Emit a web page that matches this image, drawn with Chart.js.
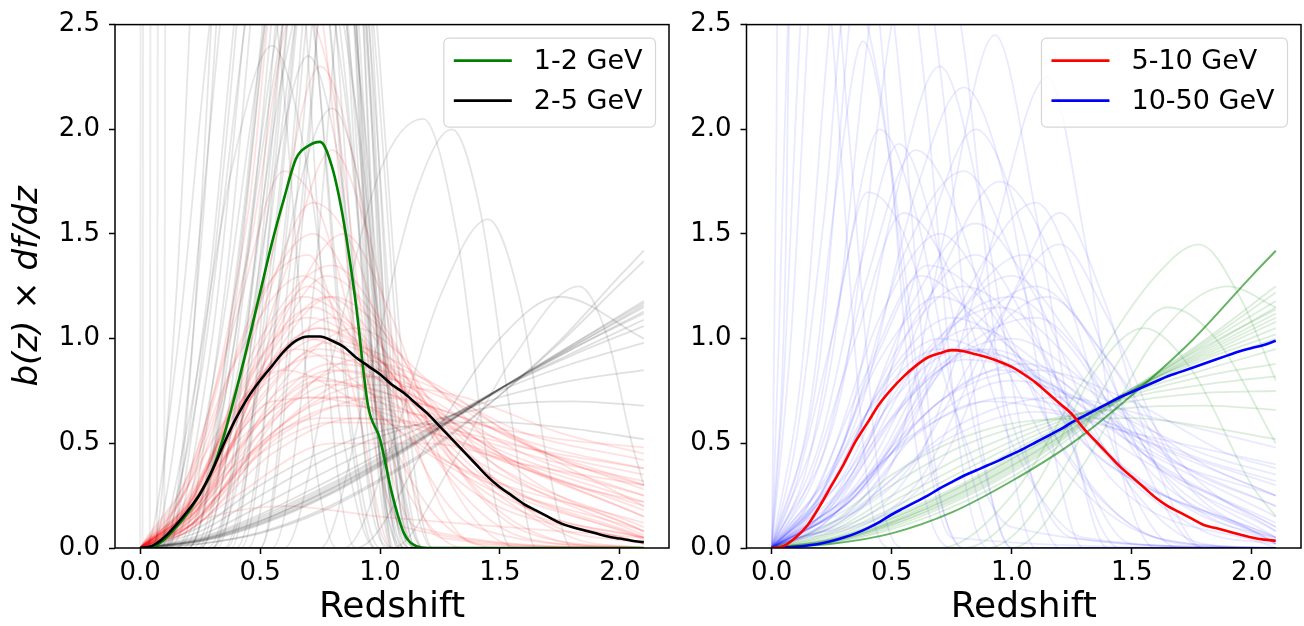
<!DOCTYPE html>
<html>
<head>
<meta charset="utf-8">
<script src="https://cdn.jsdelivr.net/npm/chart.js@4.4.1/dist/chart.umd.min.js"></script>
<style>
  body { margin: 0; background: #fff; width: 1304px; height: 626px; overflow: hidden; position: relative; }
  canvas { position: absolute; top: 0; }
</style>
</head>
<body>
<canvas id="left" width="676" height="626" style="left:0;width:676px;height:626px"></canvas>
<canvas id="right" width="628" height="626" style="left:676px;width:628px;height:626px"></canvas>
<script>
// redshift grid for the mean curves
const zGrid = [0, 0.05, 0.1, 0.15, 0.2, 0.25, 0.3, 0.35, 0.4, 0.45, 0.5, 0.55, 0.6, 0.65, 0.7, 0.75, 0.8, 0.85, 0.9, 0.95,
  1.0, 1.05, 1.1, 1.15, 1.2, 1.25, 1.3, 1.35, 1.4, 1.45, 1.5, 1.55, 1.6, 1.65, 1.7, 1.75, 1.8, 1.85, 1.9, 1.95, 2.0, 2.05, 2.1];

// mean curves
const green12 = [0, 0.005, 0.04, 0.1, 0.17, 0.26, 0.37, 0.54, 0.75, 0.98, 1.22, 1.46, 1.67, 1.86, 1.92, 1.94, 1.82, 1.55, 1.16, 0.68,
  0.52, 0.26, 0.07, 0.01, 0, 0, 0, 0, 0, 0, 0, 0, 0, 0, 0, 0, 0, 0, 0, 0, 0, 0, 0];
const black25 = [0, 0.01, 0.05, 0.11, 0.18, 0.26, 0.37, 0.5, 0.62, 0.72, 0.8, 0.87, 0.94, 0.99, 1.01, 1.01, 0.99, 0.96, 0.91, 0.87,
  0.83, 0.78, 0.74, 0.69, 0.64, 0.58, 0.52, 0.46, 0.40, 0.34, 0.29, 0.25, 0.21, 0.18, 0.15, 0.12, 0.10, 0.085, 0.07, 0.055, 0.045, 0.035, 0.028];
const red510 = [0, 0.01, 0.05, 0.11, 0.2, 0.3, 0.4, 0.51, 0.6, 0.69, 0.76, 0.82, 0.87, 0.91, 0.93, 0.945, 0.94, 0.925, 0.91, 0.89,
  0.865, 0.83, 0.79, 0.74, 0.69, 0.64, 0.57, 0.51, 0.45, 0.39, 0.34, 0.29, 0.24, 0.2, 0.17, 0.14, 0.11, 0.095, 0.08, 0.065, 0.05, 0.04, 0.035];
const blue1050 = [0, 0.002, 0.006, 0.012, 0.02, 0.033, 0.05, 0.07, 0.095, 0.125, 0.16, 0.19, 0.22, 0.25, 0.285, 0.315, 0.345, 0.37, 0.395, 0.42,
  0.447, 0.475, 0.505, 0.535, 0.565, 0.6, 0.63, 0.66, 0.69, 0.72, 0.745, 0.77, 0.795, 0.82, 0.84, 0.86, 0.88, 0.9, 0.92, 0.94, 0.955, 0.97, 0.99];

const xTicks = [0, 0.5, 1.0, 1.5, 2.0];
const yTicks = [0, 0.5, 1.0, 1.5, 2.0, 2.5];
const leftLabels = ['1-2 GeV', '2-5 GeV'];
const rightLabels = ['5-10 GeV', '10-50 GeV'];

// faint sample curves, [redshift, value] pairs
const grayNearZero = [
  [[0, 0], [0.004, 6]], [[0.01, 0], [0.015, 6]], [[0.04, 0], [0.046, 6]], [[0.07, 0], [0.078, 6]], [[0.1, 0], [0.11, 6]]
];
const grayPeaks = [
  [[0, 0], [0.10, 0], [0.30, 1.0], [0.50, 3.2], [0.62, 4.0], [0.80, 2.4], [0.95, 0.3], [1.05, 0], [2.1, 0]],
  [[0, 0], [0.20, 0], [0.40, 1.2], [0.60, 3.4], [0.72, 4.2], [0.86, 2.6], [1.00, 0.4], [1.10, 0], [2.1, 0]],
  [[0, 0], [0.25, 0], [0.45, 1.1], [0.65, 3.0], [0.78, 3.8], [0.90, 2.5], [1.02, 0.5], [1.12, 0], [2.1, 0]],
  [[0, 0], [0.05, 0], [0.25, 0.8], [0.45, 2.6], [0.60, 3.6], [0.78, 2.6], [0.92, 0.6], [1.05, 0], [2.1, 0]],
  [[0, 0], [0.30, 0], [0.50, 1.3], [0.68, 3.2], [0.80, 3.9], [0.90, 2.7], [1.00, 0.8], [1.08, 0], [2.1, 0]],
  [[0, 0], [0.15, 0], [0.35, 0.7], [0.55, 2.2], [0.70, 3.0], [0.85, 2.2], [1.00, 0.5], [1.15, 0], [2.1, 0]],
  [[0, 0], [0.35, 0], [0.55, 1.4], [0.72, 3.3], [0.84, 4.0], [0.93, 2.8], [1.03, 0.6], [1.10, 0], [2.1, 0]],
  [[0, 0], [0.08, 0], [0.28, 1.2], [0.42, 2.8], [0.55, 3.6], [0.72, 2.5], [0.88, 0.6], [1.00, 0], [2.1, 0]],
  [[0, 0], [0.20, 0], [0.42, 1.5], [0.60, 3.5], [0.75, 4.5], [0.88, 2.8], [0.98, 0.7], [1.08, 0], [2.1, 0]],
  [[0, 0], [0.40, 0], [0.58, 1.2], [0.74, 3.0], [0.85, 3.7], [0.95, 2.3], [1.05, 0.5], [1.15, 0], [2.1, 0]],
  [[0, 0], [0.12, 0], [0.32, 0.9], [0.52, 2.5], [0.66, 3.4], [0.82, 2.6], [0.98, 0.8], [1.12, 0], [2.1, 0]],
  [[0, 0], [0.28, 0], [0.48, 1.0], [0.66, 2.6], [0.80, 3.2], [0.92, 2.2], [1.05, 0.6], [1.18, 0], [2.1, 0]],
  [[0, 0], [0.02, 0], [0.15, 0.9], [0.30, 2.6], [0.42, 3.4], [0.58, 2.4], [0.72, 0.5], [0.82, 0], [2.1, 0]],
  [[0, 0], [0.18, 0], [0.38, 1.1], [0.58, 3.0], [0.74, 3.9], [0.87, 2.9], [0.96, 1.0], [1.06, 0], [2.1, 0]],
  [[0, 0], [0.45, 0], [0.62, 1.3], [0.76, 3.0], [0.86, 3.6], [0.96, 2.4], [1.08, 0.6], [1.18, 0], [2.1, 0]],
  [[0, 0], [0.22, 0], [0.40, 0.8], [0.60, 2.3], [0.76, 2.9], [0.90, 2.1], [1.04, 0.7], [1.18, 0], [2.1, 0]],
  [[0, 0], [0.32, 0], [0.52, 1.6], [0.70, 3.8], [0.82, 4.6], [0.91, 3.0], [1.00, 0.9], [1.07, 0], [2.1, 0]],
  [[0, 0], [0.06, 0], [0.20, 0.6], [0.38, 1.8], [0.55, 2.4], [0.70, 1.8], [0.85, 0.5], [0.98, 0], [2.1, 0]],
  [[0, 0], [0.25, 0], [0.42, 0.8], [0.58, 1.9], [0.70, 2.35], [0.82, 1.9], [0.95, 0.8], [1.10, 0], [2.1, 0]],
  [[0, 0], [0.60, 0], [0.80, 0.9], [1.00, 1.8], [1.18, 2.05], [1.32, 1.5], [1.45, 0.4], [1.55, 0], [2.1, 0]],
  [[0, 0], [0.75, 0], [0.95, 0.8], [1.15, 1.7], [1.30, 2.0], [1.42, 1.6], [1.55, 0.6], [1.65, 0], [2.1, 0]],
  [[0, 0], [0.85, 0], [1.05, 0.5], [1.25, 1.2], [1.45, 1.57], [1.58, 1.2], [1.70, 0.4], [1.80, 0], [2.1, 0]],
  [[0, 0], [1.05, 0], [1.30, 0.4], [1.55, 0.9], [1.83, 1.25], [1.95, 1.0], [2.05, 0.5], [2.1, 0.3]],
  [[0, 0], [0.10, 0], [0.25, 1.4], [0.38, 3.5], [0.50, 4.5], [0.66, 3.0], [0.80, 0.6], [0.90, 0], [2.1, 0]],
  [[0, 0], [0.38, 0], [0.56, 1.8], [0.70, 3.6], [0.80, 4.2], [0.90, 3.2], [0.98, 1.2], [1.05, 0], [2.1, 0]],
  [[0, 0], [0.50, 0], [0.66, 1.5], [0.80, 3.2], [0.88, 3.8], [0.98, 2.6], [1.10, 0.8], [1.22, 0], [2.1, 0]],
  [[0, 0], [0.15, 0], [0.35, 1.2], [0.55, 3.6], [0.68, 4.6], [0.82, 3.2], [0.95, 0.9], [1.05, 0], [2.1, 0]],
  [[0, 0], [0.30, 0], [0.48, 1.4], [0.65, 3.6], [0.78, 4.4], [0.88, 3.0], [0.97, 0.9], [1.05, 0], [2.1, 0]],
  [[0, 0], [0.42, 0], [0.60, 1.5], [0.75, 3.4], [0.85, 4.0], [0.94, 2.8], [1.03, 0.9], [1.12, 0], [2.1, 0]],
  [[0, 0], [0.10, 0], [0.30, 1.3], [0.48, 3.4], [0.62, 4.4], [0.78, 3.0], [0.92, 0.9], [1.02, 0], [2.1, 0]],
  [[0, 0], [0.24, 0], [0.44, 1.3], [0.62, 3.3], [0.76, 4.2], [0.88, 2.9], [0.99, 0.8], [1.10, 0], [2.1, 0]],
  [[0, 0], [0.36, 0], [0.54, 1.2], [0.70, 3.0], [0.82, 3.8], [0.93, 2.7], [1.04, 0.8], [1.14, 0], [2.1, 0]],
  [[0, 0], [0.04, 0], [0.20, 1.0], [0.38, 3.0], [0.52, 4.0], [0.70, 2.8], [0.86, 0.7], [0.98, 0], [2.1, 0]],
  [[0, 0], [0.50, 0], [0.68, 1.6], [0.80, 3.4], [0.87, 4.0], [0.95, 2.8], [1.05, 0.8], [1.15, 0], [2.1, 0]],
  [[0, 0], [0.20, 0], [0.38, 0.9], [0.56, 2.4], [0.72, 3.2], [0.86, 2.5], [1.00, 0.9], [1.14, 0], [2.1, 0]],
  [[0, 0], [0.55, 0], [0.72, 1.2], [0.84, 2.8], [0.90, 3.4], [0.98, 2.4], [1.10, 0.6], [1.22, 0], [2.1, 0]],
  [[0, 0], [0.30, 0], [0.50, 0.8], [0.68, 1.8], [0.80, 2.1], [0.92, 1.7], [1.05, 0.6], [1.15, 0], [2.1, 0]],
  [[0, 0], [0.05, 0], [0.15, 1.2], [0.25, 3.5], [0.35, 5.0]],
  [[0, 0], [0.12, 0], [0.22, 1.0], [0.32, 3.0], [0.42, 5.0]]
];
const grayRising = [
  [[0, 0], [0.25, 0.02], [0.5, 0.07], [0.75, 0.17], [1.0, 0.32], [1.25, 0.5], [1.5, 0.73], [1.75, 0.99], [2.0, 1.3], [2.1, 1.42]],
  [[0, 0], [0.25, 0.02], [0.5, 0.075], [0.75, 0.18], [1.0, 0.33], [1.25, 0.51], [1.5, 0.73], [1.75, 0.98], [2.0, 1.26], [2.1, 1.37]],
  [[0, 0], [0.25, 0.03], [0.5, 0.11], [0.8, 0.26], [1.1, 0.46], [1.5, 0.76], [1.8, 0.97], [2.1, 1.18]],
  [[0, 0], [0.25, 0.035], [0.5, 0.12], [0.8, 0.27], [1.1, 0.47], [1.5, 0.76], [1.8, 0.96], [2.1, 1.15]],
  [[0, 0], [0.25, 0.04], [0.5, 0.13], [0.8, 0.29], [1.1, 0.48], [1.5, 0.76], [1.8, 0.95], [2.1, 1.12]],
  [[0, 0], [0.25, 0.04], [0.5, 0.14], [0.8, 0.3], [1.1, 0.49], [1.5, 0.76], [1.8, 0.93], [2.1, 1.09]],
  [[0, 0], [0.25, 0.045], [0.5, 0.15], [0.8, 0.31], [1.1, 0.5], [1.5, 0.76], [1.8, 0.92], [2.1, 1.06]],
  [[0, 0], [0.25, 0.05], [0.5, 0.16], [0.8, 0.33], [1.1, 0.51], [1.5, 0.75], [1.8, 0.88], [2.1, 0.98]],
  [[0, 0], [0.25, 0.06], [0.5, 0.2], [0.8, 0.38], [1.1, 0.54], [1.5, 0.72], [1.8, 0.8], [2.1, 0.85]],
  [[0, 0], [0.25, 0.08], [0.5, 0.25], [0.8, 0.44], [1.1, 0.57], [1.5, 0.68], [1.8, 0.7], [2.1, 0.68]],
  [[0, 0], [0.25, 0.1], [0.5, 0.3], [0.8, 0.48], [1.1, 0.58], [1.5, 0.6], [1.8, 0.57], [2.1, 0.52]],
  [[0, 0], [0.25, 0.035], [0.5, 0.125], [0.8, 0.28], [1.1, 0.47], [1.5, 0.76], [1.8, 0.96], [2.1, 1.16]],
  [[0, 0], [0.25, 0.032], [0.5, 0.115], [0.8, 0.265], [1.1, 0.465], [1.5, 0.76], [1.8, 0.97], [2.1, 1.17]],
  [[0, 0], [0.25, 0.038], [0.5, 0.13], [0.8, 0.285], [1.1, 0.475], [1.5, 0.76], [1.8, 0.95], [2.1, 1.13]],
  [[0, 0], [0.9, 0], [1.2, 0.5], [1.5, 1.0], [1.75, 1.2], [2.1, 1.0]]
];
const redSamples = [
  [[0, 0], [0.2, 0.15], [0.45, 0.7], [0.7, 1.0], [1.0, 0.8], [1.4, 0.35], [2.1, 0.05]],
  [[0, 0], [0.2, 0.2], [0.45, 0.8], [0.72, 1.15], [1.0, 0.85], [1.4, 0.3], [2.1, 0.02]],
  [[0, 0], [0.2, 0.12], [0.5, 0.6], [0.8, 0.85], [1.1, 0.75], [1.5, 0.45], [2.1, 0.15]],
  [[0, 0], [0.15, 0.12], [0.4, 0.65], [0.65, 0.95], [0.95, 0.75], [1.3, 0.4], [2.1, 0.08]],
  [[0, 0], [0.2, 0.1], [0.5, 0.5], [0.85, 0.72], [1.2, 0.62], [1.6, 0.42], [2.1, 0.25]],
  [[0, 0], [0.2, 0.08], [0.55, 0.45], [0.9, 0.62], [1.3, 0.55], [1.7, 0.42], [2.1, 0.32]],
  [[0, 0], [0.15, 0.2], [0.4, 0.9], [0.68, 1.3], [0.95, 0.95], [1.3, 0.35], [2.1, 0.02]],
  [[0, 0], [0.2, 0.25], [0.45, 1.05], [0.72, 1.5], [0.95, 1.1], [1.25, 0.4], [1.6, 0.05], [2.1, 0]],
  [[0, 0], [0.2, 0.18], [0.5, 0.85], [0.78, 1.2], [1.05, 0.9], [1.4, 0.4], [2.1, 0.05]],
  [[0, 0], [0.25, 0.15], [0.55, 0.62], [0.85, 0.85], [1.15, 0.72], [1.5, 0.45], [2.1, 0.18]],
  [[0, 0], [0.1, 0.1], [0.35, 0.6], [0.6, 0.85], [0.9, 0.7], [1.3, 0.4], [2.1, 0.12]],
  [[0, 0], [0.2, 0.12], [0.5, 0.55], [0.8, 0.78], [1.2, 0.68], [1.7, 0.48], [2.1, 0.38]],
  [[0, 0], [0.2, 0.22], [0.5, 1.0], [0.8, 1.35], [1.05, 1.0], [1.35, 0.35], [1.8, 0.02], [2.1, 0]],
  [[0, 0], [0.3, 0.3], [0.6, 1.1], [0.85, 1.5], [1.05, 1.1], [1.3, 0.3], [1.6, 0], [2.1, 0]],
  [[0, 0], [0.15, 0.15], [0.45, 0.75], [0.75, 1.05], [1.05, 0.85], [1.45, 0.42], [2.1, 0.1]],
  [[0, 0], [0.2, 0.1], [0.6, 0.55], [1.0, 0.72], [1.4, 0.6], [1.8, 0.4], [2.1, 0.3]],
  [[0, 0], [0.25, 0.2], [0.55, 0.85], [0.8, 1.1], [1.0, 0.9], [1.3, 0.45], [1.8, 0.05], [2.1, 0]],
  [[0, 0], [0.15, 0.1], [0.4, 0.5], [0.7, 0.72], [1.0, 0.65], [1.5, 0.42], [2.1, 0.2]],
  [[0, 0], [0.2, 0.3], [0.4, 1.1], [0.6, 1.8], [0.75, 1.6], [0.95, 0.8], [1.2, 0.2], [1.5, 0], [2.1, 0]],
  [[0, 0], [0.2, 0.35], [0.45, 1.4], [0.65, 2.6], [0.8, 2.2], [0.95, 0.9], [1.15, 0.1], [2.1, 0]],
  [[0, 0], [0.25, 0.5], [0.45, 1.6], [0.6, 3.0], [0.75, 2.6], [0.9, 1.0], [1.1, 0.1], [2.1, 0]],
  [[0, 0], [0.3, 0.4], [0.55, 1.4], [0.75, 2.3], [0.9, 1.8], [1.05, 0.7], [1.25, 0.05], [2.1, 0]],
  [[0, 0], [0.2, 0.15], [0.5, 0.7], [0.78, 0.98], [1.1, 0.82], [1.5, 0.38], [2.1, 0.06]],
  [[0, 0], [0.2, 0.17], [0.48, 0.78], [0.74, 1.05], [1.05, 0.82], [1.45, 0.35], [2.1, 0.04]],
  [[0, 0], [0.25, 0.12], [0.6, 0.6], [0.95, 0.82], [1.3, 0.7], [1.7, 0.45], [2.1, 0.28]],
  [[0, 0], [0.2, 0.14], [0.5, 0.6], [0.75, 0.8], [1.0, 0.75], [1.3, 0.6], [1.7, 0.45], [2.1, 0.35]],
  [[0, 0], [0.15, 0.05], [0.4, 0.25], [0.8, 0.5], [1.2, 0.5], [1.6, 0.4], [2.1, 0.3]],
  [[0, 0], [0.2, 0.12], [0.5, 0.45], [0.8, 0.6], [1.1, 0.58], [1.6, 0.4], [2.1, 0.22]],
  [[0, 0], [0.3, 0.25], [0.6, 0.8], [0.9, 1.05], [1.2, 0.8], [1.6, 0.35], [2.1, 0.08]],
  [[0, 0], [0.1, 0.06], [0.3, 0.35], [0.55, 0.7], [0.85, 0.72], [1.2, 0.45], [1.7, 0.15], [2.1, 0.05]],
  [[0, 0], [0.2, 0.3], [0.5, 1.2], [0.7, 1.4], [0.9, 0.7], [1.05, 0], [2.1, 0]],
  [[0, 0], [0.1, 0.05], [0.3, 0.15], [0.6, 0.2], [1.0, 0.15], [2.1, 0.05]],
  [[0, 0], [0.25, 0.25], [0.5, 0.9], [0.7, 1.25], [0.88, 1.0], [1.1, 0.3], [1.35, 0], [2.1, 0]],
  [[0, 0], [0.2, 0.1], [0.55, 0.55], [0.95, 0.78], [1.35, 0.72], [1.75, 0.55], [2.1, 0.45]],
  [[0, 0], [0.2, 0.16], [0.5, 0.72], [0.75, 0.95], [1.0, 0.85], [1.4, 0.5], [2.1, 0.15]],
  [[0, 0], [0.2, 0.2], [0.45, 0.82], [0.7, 1.1], [0.95, 0.95], [1.3, 0.5], [2.1, 0.08]],
  [[0, 0], [0.15, 0.14], [0.45, 0.7], [0.75, 0.92], [1.1, 0.78], [1.6, 0.45], [2.1, 0.25]],
  [[0, 0], [0.2, 0.13], [0.5, 0.62], [0.8, 0.88], [1.15, 0.8], [1.6, 0.55], [2.1, 0.42]],
  [[0, 0], [0.25, 0.22], [0.55, 0.9], [0.8, 1.2], [1.0, 1.05], [1.3, 0.55], [1.7, 0.12], [2.1, 0.02]],
  [[0, 0], [0.2, 0.18], [0.5, 0.78], [0.75, 1.0], [1.05, 0.9], [1.5, 0.55], [2.1, 0.3]],
  [[0, 0], [0.3, 0.3], [0.55, 0.95], [0.78, 1.3], [0.98, 1.1], [1.25, 0.5], [1.6, 0.08], [2.1, 0]],
  [[0, 0], [0.15, 0.08], [0.4, 0.4], [0.75, 0.62], [1.15, 0.6], [1.6, 0.48], [2.1, 0.38]],
  [[0, 0], [0.2, 0.2], [0.45, 0.85], [0.68, 1.2], [0.9, 1.05], [1.2, 0.6], [1.6, 0.2], [2.1, 0.05]],
  [[0, 0], [0.25, 0.14], [0.6, 0.66], [0.9, 0.9], [1.2, 0.8], [1.6, 0.5], [2.1, 0.2]],
  [[0, 0], [0.25, 0.3], [0.5, 1.1], [0.72, 1.65], [0.9, 1.4], [1.1, 0.6], [1.4, 0.1], [2.1, 0]],
  [[0, 0], [0.3, 0.35], [0.6, 1.3], [0.8, 1.9], [0.95, 1.5], [1.15, 0.5], [1.4, 0.02], [2.1, 0]],
  [[0, 0], [0.15, 0.12], [0.45, 0.6], [0.7, 0.82], [1.0, 0.72], [1.35, 0.5], [1.8, 0.3], [2.1, 0.22]],
  [[0, 0], [0.2, 0.1], [0.5, 0.48], [0.85, 0.68], [1.25, 0.62], [1.75, 0.52], [2.1, 0.48]]
];
const blueSamples = [
  [[0, 0], [0.2, 0.2], [0.45, 0.75], [0.7, 1.0], [1.0, 0.85], [1.4, 0.4], [2.1, 0.05]],
  [[0, 0], [0.2, 0.15], [0.5, 0.7], [0.8, 0.95], [1.1, 0.8], [1.5, 0.45], [2.1, 0.12]],
  [[0, 0], [0.2, 0.25], [0.45, 0.9], [0.7, 1.2], [1.0, 0.95], [1.35, 0.45], [2.1, 0.05]],
  [[0, 0], [0.25, 0.2], [0.55, 0.8], [0.85, 1.05], [1.15, 0.85], [1.55, 0.45], [2.1, 0.1]],
  [[0, 0], [0.2, 0.1], [0.6, 0.6], [0.95, 0.85], [1.3, 0.7], [1.7, 0.4], [2.1, 0.2]],
  [[0, 0], [0.3, 0.2], [0.7, 0.7], [1.05, 0.88], [1.4, 0.7], [1.8, 0.4], [2.1, 0.25]],
  [[0, 0], [0.15, 0.2], [0.4, 0.85], [0.62, 1.3], [0.9, 1.0], [1.2, 0.4], [1.6, 0.05], [2.1, 0]],
  [[0, 0], [0.2, 0.3], [0.45, 1.1], [0.7, 1.5], [0.95, 1.1], [1.25, 0.4], [1.7, 0.02], [2.1, 0]],
  [[0, 0], [0.3, 0.35], [0.6, 1.1], [0.85, 1.4], [1.1, 1.0], [1.4, 0.35], [2.1, 0]],
  [[0, 0], [0.35, 0.3], [0.7, 1.0], [1.0, 1.3], [1.25, 1.0], [1.55, 0.4], [2.1, 0.02]],
  [[0, 0], [0.4, 0.3], [0.8, 1.0], [1.1, 1.25], [1.4, 0.9], [1.75, 0.35], [2.1, 0.08]],
  [[0, 0], [0.2, 0.1], [0.5, 0.45], [0.9, 0.7], [1.3, 0.62], [1.7, 0.45], [2.1, 0.3]],
  [[0, 0], [0.2, 0.12], [0.6, 0.55], [1.0, 0.72], [1.4, 0.6], [1.8, 0.42], [2.1, 0.32]],
  [[0, 0], [0.25, 0.1], [0.7, 0.5], [1.1, 0.65], [1.5, 0.55], [2.1, 0.4]],
  [[0, 0], [0.15, 0.3], [0.35, 1.0], [0.55, 1.6], [0.75, 1.3], [1.0, 0.5], [1.3, 0.05], [2.1, 0]],
  [[0, 0], [0.2, 0.4], [0.4, 1.3], [0.6, 1.9], [0.8, 1.5], [1.0, 0.6], [1.25, 0.05], [2.1, 0]],
  [[0, 0], [0.3, 0.5], [0.55, 1.4], [0.8, 1.8], [1.0, 1.4], [1.25, 0.5], [1.5, 0.02], [2.1, 0]],
  [[0, 0], [0.4, 0.5], [0.7, 1.3], [0.95, 1.75], [1.2, 1.3], [1.45, 0.4], [1.7, 0], [2.1, 0]],
  [[0, 0], [0.5, 0.4], [0.85, 1.3], [1.1, 1.65], [1.3, 1.2], [1.55, 0.4], [1.8, 0], [2.1, 0]],
  [[0, 0], [0.6, 0.3], [0.95, 1.1], [1.2, 1.45], [1.4, 1.1], [1.7, 0.35], [2.1, 0.02]],
  [[0, 0], [0.15, 0.6], [0.28, 1.8], [0.38, 2.42], [0.5, 1.8], [0.65, 0.5], [0.8, 0], [2.1, 0]],
  [[0, 0], [0.3, 0.5], [0.5, 1.6], [0.7, 2.3], [0.88, 1.6], [1.05, 0.5], [1.2, 0], [2.1, 0]],
  [[0, 0], [0.5, 0.4], [0.72, 1.5], [0.93, 2.45], [1.1, 1.6], [1.28, 0.4], [1.4, 0], [2.1, 0]],
  [[0, 0], [0.6, 0.4], [0.9, 1.4], [1.15, 2.25], [1.3, 1.5], [1.45, 0.4], [1.6, 0], [2.1, 0]],
  [[0, 0], [0.4, 0.5], [0.65, 1.5], [0.85, 2.0], [1.05, 1.5], [1.25, 0.5], [1.45, 0], [2.1, 0]],
  [[0, 0], [0.2, 0.5], [0.38, 1.4], [0.53, 1.93], [0.7, 1.4], [0.88, 0.4], [1.0, 0], [2.1, 0]],
  [[0, 0], [0.08, 1.0], [0.18, 3.0], [0.3, 4.0], [0.45, 2.5], [0.6, 0.5], [0.75, 0], [2.1, 0]],
  [[0, 0], [0.12, 0.8], [0.25, 2.6], [0.38, 3.6], [0.52, 2.4], [0.68, 0.4], [0.8, 0], [2.1, 0]],
  [[0, 0], [0.2, 0.9], [0.35, 2.8], [0.48, 3.5], [0.62, 2.4], [0.78, 0.5], [0.9, 0], [2.1, 0]],
  [[0, 0], [0.03, 1.0], [0.08, 3.0], [0.15, 4.0], [0.25, 2.5], [0.4, 0.3], [0.5, 0], [2.1, 0]],
  [[0, 0], [0.25, 0.9], [0.42, 2.6], [0.56, 3.3], [0.7, 2.3], [0.86, 0.6], [1.0, 0], [2.1, 0]],
  [[0, 0], [0.3, 0.8], [0.5, 2.5], [0.66, 3.2], [0.8, 2.4], [0.95, 0.8], [1.1, 0], [2.1, 0]],
  [[0, 0], [0.02, 2.0], [0.04, 6.0]],
  [[0, 0], [0.06, 1.5], [0.1, 5.0]],
  [[0, 0], [0.2, 0.15], [0.5, 0.62], [0.8, 0.9], [1.1, 0.82], [1.5, 0.5], [2.1, 0.15]],
  [[0, 0], [0.25, 0.18], [0.55, 0.7], [0.85, 0.95], [1.15, 0.78], [1.5, 0.35], [2.1, 0.04]],
  [[0, 0], [0.3, 0.15], [0.65, 0.6], [1.0, 0.8], [1.35, 0.68], [1.8, 0.45], [2.1, 0.35]],
  [[0, 0], [0.35, 0.25], [0.75, 0.9], [1.1, 1.1], [1.4, 0.75], [1.7, 0.25], [2.1, 0.02]],
  [[0, 0], [0.25, 0.3], [0.55, 1.0], [0.8, 1.25], [1.05, 1.05], [1.35, 0.5], [1.8, 0.08], [2.1, 0.02]],
  [[0, 0], [0.3, 0.28], [0.65, 0.95], [0.95, 1.15], [1.2, 0.95], [1.5, 0.5], [2.1, 0.1]],
  [[0, 0], [0.2, 0.22], [0.5, 0.85], [0.75, 1.1], [1.0, 0.95], [1.3, 0.55], [1.8, 0.15], [2.1, 0.05]],
  [[0, 0], [0.4, 0.35], [0.75, 1.05], [1.0, 1.2], [1.25, 0.95], [1.55, 0.45], [2.1, 0.08]],
  [[0, 0], [0.35, 0.25], [0.7, 0.85], [1.0, 1.0], [1.3, 0.8], [1.7, 0.4], [2.1, 0.2]],
  [[0, 0], [0.25, 0.2], [0.6, 0.75], [0.9, 0.95], [1.2, 0.8], [1.6, 0.45], [2.1, 0.25]],
  [[0, 0], [0.45, 0.4], [0.8, 1.15], [1.05, 1.4], [1.3, 1.05], [1.6, 0.4], [2.1, 0.02]],
  [[0, 0], [0.2, 0.25], [0.45, 0.95], [0.65, 1.35], [0.9, 1.15], [1.2, 0.5], [1.6, 0.05], [2.1, 0]],
  [[0, 0], [0.3, 0.4], [0.6, 1.2], [0.85, 1.55], [1.1, 1.2], [1.4, 0.45], [1.8, 0.02], [2.1, 0]],
  [[0, 0], [0.15, 0.15], [0.4, 0.65], [0.7, 0.95], [1.0, 0.9], [1.4, 0.6], [2.1, 0.25]],
  [[0, 0], [0.55, 0.35], [0.9, 1.0], [1.15, 1.2], [1.4, 0.9], [1.7, 0.35], [2.1, 0.05]],
  [[0, 0], [0.3, 0.2], [0.7, 0.7], [1.1, 0.85], [1.5, 0.7], [1.9, 0.45], [2.1, 0.38]],
  [[0, 0], [0.1, 0.3], [0.25, 1.0], [0.4, 1.7], [0.55, 1.5], [0.75, 0.7], [1.0, 0.1], [2.1, 0]],
  [[0, 0], [0.1, 0.5], [0.22, 1.6], [0.32, 2.7], [0.45, 2.2], [0.6, 0.8], [0.75, 0.05], [2.1, 0]],
  [[0, 0], [0.35, 0.6], [0.6, 1.7], [0.8, 2.2], [0.98, 1.7], [1.15, 0.6], [1.3, 0], [2.1, 0]],
  [[0, 0], [0.7, 0.4], [1.0, 1.2], [1.2, 1.6], [1.38, 1.2], [1.6, 0.4], [1.8, 0], [2.1, 0]],
  [[0, 0], [0.15, 0.4], [0.3, 1.3], [0.45, 2.0], [0.6, 1.6], [0.8, 0.5], [0.95, 0], [2.1, 0]],
  [[0, 0], [0.05, 0.8], [0.12, 2.5], [0.2, 3.5], [0.32, 2.0], [0.45, 0.3], [0.55, 0], [2.1, 0]],
  [[0, 0], [0.3, 0.15], [0.8, 0.6], [1.2, 0.72], [1.6, 0.62], [2.1, 0.48]]
];
const greenEdge = [[0, 0], [0.25, 0.02], [0.5, 0.07], [0.75, 0.17], [1.0, 0.32], [1.25, 0.5], [1.5, 0.73], [1.75, 0.99], [2.0, 1.3], [2.1, 1.42]];
const greenRising = [
  [[0, 0], [0.25, 0.025], [0.5, 0.09], [0.8, 0.22], [1.1, 0.41], [1.5, 0.75], [1.8, 0.98], [2.1, 1.22]],
  [[0, 0], [0.25, 0.03], [0.5, 0.11], [0.8, 0.25], [1.1, 0.44], [1.5, 0.75], [1.8, 0.95], [2.1, 1.15]],
  [[0, 0], [0.25, 0.035], [0.5, 0.12], [0.8, 0.27], [1.1, 0.46], [1.5, 0.75], [1.8, 0.93], [2.1, 1.1]],
  [[0, 0], [0.25, 0.04], [0.5, 0.13], [0.8, 0.29], [1.1, 0.48], [1.5, 0.76], [1.8, 0.91], [2.1, 1.05]],
  [[0, 0], [0.25, 0.045], [0.5, 0.15], [0.8, 0.31], [1.1, 0.5], [1.5, 0.75], [1.8, 0.88], [2.1, 1.0]],
  [[0, 0], [0.25, 0.05], [0.5, 0.17], [0.8, 0.34], [1.1, 0.52], [1.5, 0.74], [1.8, 0.85], [2.1, 0.95]],
  [[0, 0], [0.25, 0.06], [0.5, 0.19], [0.8, 0.37], [1.1, 0.54], [1.5, 0.73], [1.8, 0.82], [2.1, 0.88]],
  [[0, 0], [0.25, 0.07], [0.5, 0.22], [0.8, 0.4], [1.1, 0.56], [1.5, 0.72], [1.8, 0.78], [2.1, 0.82]],
  [[0, 0], [0.25, 0.08], [0.5, 0.25], [0.8, 0.44], [1.1, 0.58], [1.5, 0.7], [1.8, 0.74], [2.1, 0.75]],
  [[0, 0], [0.25, 0.1], [0.5, 0.3], [0.8, 0.49], [1.1, 0.6], [1.5, 0.67], [1.8, 0.68], [2.1, 0.66]],
  [[0, 0], [0.25, 0.12], [0.5, 0.35], [0.8, 0.53], [1.1, 0.61], [1.5, 0.62], [1.8, 0.58], [2.1, 0.52]],
  [[0, 0], [0.25, 0.04], [0.5, 0.14], [0.8, 0.3], [1.1, 0.49], [1.5, 0.76], [1.8, 0.96], [2.1, 1.14]],
  [[0, 0], [0.25, 0.03], [0.5, 0.12], [0.8, 0.27], [1.1, 0.46], [1.5, 0.76], [1.8, 0.99], [2.1, 1.25]],
  [[0, 0], [0.25, 0.028], [0.5, 0.1], [0.8, 0.24], [1.1, 0.43], [1.5, 0.75], [1.8, 0.97], [2.1, 1.18]],
  [[0, 0], [0.25, 0.032], [0.5, 0.11], [0.8, 0.26], [1.1, 0.45], [1.5, 0.75], [1.8, 0.94], [2.1, 1.12]],
  [[0, 0], [0.25, 0.038], [0.5, 0.125], [0.8, 0.28], [1.1, 0.47], [1.5, 0.755], [1.8, 0.92], [2.1, 1.08]],
  [[0, 0], [0.25, 0.042], [0.5, 0.14], [0.8, 0.3], [1.1, 0.49], [1.5, 0.75], [1.8, 0.9], [2.1, 1.02]],
  [[0, 0], [0.7, 0], [1.0, 0.25], [1.3, 0.8], [1.6, 1.3], [1.78, 1.45], [1.95, 1.2], [2.1, 0.8]],
  [[0, 0], [0.9, 0], [1.2, 0.35], [1.45, 0.9], [1.65, 1.15], [1.85, 1.0], [2.1, 0.5]],
  [[0, 0], [1.0, 0], [1.3, 0.4], [1.6, 1.0], [1.9, 1.25], [2.1, 1.15]],
  [[0, 0], [0.8, 0], [1.1, 0.3], [1.35, 0.85], [1.55, 1.05], [1.75, 0.85], [2.0, 0.3], [2.1, 0.15]]
];

const FONT = 'DejaVu Sans';

function onGrid(ys) {
  return ys.map((y, i) => ({ x: zGrid[i], y: y }));
}
function pairs(list) {
  return list.map(p => ({ x: p[0], y: p[1] }));
}
function mainLine(ys, color) {
  return { data: onGrid(ys), borderColor: color, borderWidth: 2.6, pointRadius: 0, cubicInterpolationMode: 'monotone' };
}
function faint(list, color, width) {
  return list.map(c => ({ data: pairs(c), borderColor: color, borderWidth: width, pointRadius: 0, cubicInterpolationMode: 'monotone' }));
}

// frame round the axes plus a matplotlib style legend box
const framePlugin = {
  id: 'frameLegend',
  afterDraw(chart, args, opts) {
    const { ctx, chartArea } = chart;
    ctx.save();
    ctx.strokeStyle = '#000';
    ctx.lineWidth = 1.5;
    ctx.strokeRect(chartArea.left, chartArea.top, chartArea.right - chartArea.left, chartArea.bottom - chartArea.top);

    ctx.font = '27px "' + FONT + '"';
    const textW = Math.max(...opts.labels.map(l => ctx.measureText(l).width));
    const w = 10 + 58 + 22 + textW + 13;
    const h = 89;
    const x = chartArea.right - 13.5 - w;
    const y = chartArea.top + 13.5;
    ctx.beginPath();
    ctx.roundRect(x, y, w, h, 5);
    ctx.fillStyle = 'rgba(255,255,255,0.8)';
    ctx.fill();
    ctx.strokeStyle = '#d6d6d6';
    ctx.lineWidth = 1.2;
    ctx.stroke();
    opts.labels.forEach((label, i) => {
      const ry = y + 22.5 + i * 40;
      ctx.strokeStyle = opts.colors[i];
      ctx.lineWidth = 2.6;
      ctx.beginPath();
      ctx.moveTo(x + 10, ry);
      ctx.lineTo(x + 68, ry);
      ctx.stroke();
      ctx.fillStyle = '#000';
      ctx.textBaseline = 'middle';
      ctx.textAlign = 'left';
      ctx.fillText(label, x + 90, ry + 1);
    });
    ctx.restore();
  }
};

function makeOptions(yWidth, padRight, showYTitle, legendLabels, legendColors) {
  const tickFont = { family: FONT, size: 26 };
  const grid = { drawOnChartArea: false, drawTicks: true, tickLength: 6, tickWidth: 1.5, tickColor: '#000' };
  return {
    responsive: false,
    animation: false,
    events: [],
    layout: { padding: { left: 0, right: padRight, top: 20, bottom: 0 } },
    plugins: {
      legend: { display: false },
      tooltip: { enabled: false },
      frameLegend: { labels: legendLabels, colors: legendColors }
    },
    scales: {
      x: {
        type: 'linear', min: -0.105, max: 2.205,
        afterBuildTicks: s => { s.ticks = xTicks.map(v => ({ value: v })); },
        afterFit: s => { s.height = 78; },
        ticks: { callback: v => v.toFixed(1), font: tickFont, color: '#000', padding: 4, maxRotation: 0, autoSkip: false },
        grid: grid,
        border: { display: false },
        title: { display: true, text: 'Redshift', color: '#000', font: { family: FONT, size: 36, lineHeight: 1 }, padding: { top: 0, bottom: 0 } }
      },
      y: {
        type: 'linear', min: 0, max: 2.5,
        afterBuildTicks: s => { s.ticks = yTicks.map(v => ({ value: v })); },
        afterFit: s => { s.width = yWidth; },
        ticks: { callback: v => v.toFixed(1), font: tickFont, color: '#000', padding: 9, autoSkip: false },
        grid: grid,
        border: { display: false },
        title: { display: showYTitle, text: 'b(z) × df/dz', color: '#000', font: { family: FONT, size: 34, style: 'italic', lineHeight: 1.2 }, padding: { top: 8, bottom: 0 } }
      }
    }
  };
}

const leftDatasets = [
  mainLine(black25, '#000000'),
  mainLine(green12, '#008000'),
  ...faint(grayRising, 'rgba(0,0,0,0.12)', 1.8),
  ...faint(grayNearZero, 'rgba(0,0,0,0.08)', 2),
  ...faint(grayPeaks, 'rgba(0,0,0,0.1)', 1.8),
  ...faint(redSamples, 'rgba(255,0,0,0.12)', 1.8)
];

const rightDatasets = [
  mainLine(red510, '#ff0000'),
  mainLine(blue1050, '#0000ff'),
  ...faint([greenEdge], 'rgba(0,128,0,0.6)', 2),
  ...faint(greenRising, 'rgba(0,128,0,0.14)', 1.8),
  ...faint(blueSamples, 'rgba(0,0,255,0.085)', 1.8)
];

new Chart(document.getElementById('left'), {
  type: 'line',
  data: { datasets: leftDatasets },
  options: makeOptions(115, 7, true, leftLabels, ['#008000', '#000000']),
  plugins: [framePlugin]
});

new Chart(document.getElementById('right'), {
  type: 'line',
  data: { datasets: rightDatasets },
  options: makeOptions(70.5, 3, false, rightLabels, ['#ff0000', '#0000ff']),
  plugins: [framePlugin]
});
</script>
</body>
</html>
